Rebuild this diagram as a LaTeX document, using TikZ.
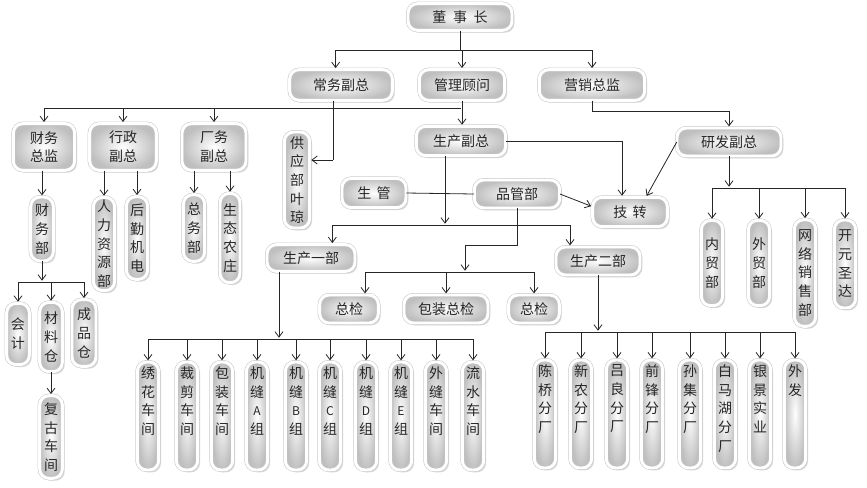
\documentclass[tikz,border=0pt]{standalone}
\usepackage{fontspec}
\newfontfamily\cjk{Noto Sans CJK SC}
\usepackage{tikz}
\usetikzlibrary{arrows.meta, shadows}

\newcommand{\tallcol}[1]{\parbox[c][77pt][t]{12pt}{\centering\vspace*{1.5pt}#1}}
\newcommand{\smallab}[1]{{\fontsize{9}{14}\selectfont #1}}

\begin{document}
\begin{tikzpicture}[x=0.75pt, y=-0.75pt,
    orgbox/.style={draw=gray!45, line width=0.4pt, double=white, double distance=2.2pt,
        rounded corners=7pt, inner color=white, outer color=gray!50,
        drop shadow={opacity=0.3, shadow xshift=1.8pt, shadow yshift=-1.8pt},
        font=\cjk\fontsize{10.5}{14}\selectfont, text=black!85, inner sep=2pt, align=center},
    conn/.style={draw=black!85, line width=0.6pt},
    arr/.style={conn, -{Straight Barb[length=4pt,width=6pt]}, shorten >=1pt}]

    \useasboundingbox (0,0) rectangle (867,487);

    % Top level
    \node[orgbox, minimum width=78pt, minimum height=20pt] (chairman) at (460,17) {董\hspace{5pt}事\hspace{5pt}长};
    \node[orgbox, minimum width=77pt, minimum height=23pt] (execvp) at (341,85) {常务副总};
    \node[orgbox, minimum width=64pt, minimum height=23pt] (advisor) at (462,85) {管理顾问};
    \node[orgbox, minimum width=79pt, minimum height=23pt] (salesdir) at (592,85) {营销总监};

    % Second level
    \node[orgbox, minimum width=46pt, minimum height=35pt] (findir) at (44,147) {财务\\总监};
    \node[orgbox, minimum width=50pt, minimum height=35pt] (adminvp) at (123,147) {行政\\副总};
    \node[orgbox, minimum width=48pt, minimum height=35pt] (plantvp) at (214,147) {厂务\\副总};
    \node[orgbox, minimum width=19pt, minimum height=72pt] (supply) at (297,180) {供\\应\\部\\叶\\琼};
    \node[orgbox, minimum width=67pt, minimum height=22pt] (prodvp) at (461,141) {生产副总};
    \node[orgbox, minimum width=78pt, minimum height=21pt] (rdvp) at (729,142) {研发副总};

    % Production
    \node[orgbox, minimum width=48pt, minimum height=22pt] (prodctl) at (374,193) {生\hspace{4pt}管};
    \node[orgbox, minimum width=64pt, minimum height=21pt] (qc) at (517,194) {品管部};
    \node[orgbox, minimum width=56pt, minimum height=22pt] (tech) at (630,212) {技\hspace{4pt}转};
    \node[orgbox, minimum width=66pt, minimum height=20pt] (prodA) at (311,258) {生产一部};
    \node[orgbox, minimum width=63pt, minimum height=21pt] (prodB) at (598,261) {生产二部};
    \node[orgbox, minimum width=44pt, minimum height=21pt] (chkA) at (349,309) {总检};
    \node[orgbox, minimum width=63pt, minimum height=21pt] (pack) at (446,309) {包装总检};
    \node[orgbox, minimum width=38pt, minimum height=21pt] (chkB) at (534,309) {总检};

    % Departments left
    \node[orgbox, minimum width=17pt, minimum height=48pt] (finance) at (42,229) {财\\务\\部};
    \node[orgbox, minimum width=16pt, minimum height=70pt] (hr) at (104,244) {人\\力\\资\\源\\部};
    \node[orgbox, minimum width=16pt, minimum height=62pt] (logis) at (137,238) {后\\勤\\机\\电};
    \node[orgbox, minimum width=16pt, minimum height=50pt] (general) at (194,228) {总\\务\\部};
    \node[orgbox, minimum width=15pt, minimum height=67pt] (farm) at (230,238) {生\\态\\农\\庄};
    \node[orgbox, minimum width=17pt, minimum height=46pt] (acct) at (18,334) {会\\计};
    \node[orgbox, minimum width=17pt, minimum height=52pt] (matl) at (51,337) {材\\料\\仓};
    \node[orgbox, minimum width=18pt, minimum height=50pt] (goods) at (84,333) {成\\品\\仓};
    \node[orgbox, minimum width=17pt, minimum height=62pt] (retro) at (51,437) {复\\古\\车\\间};

    % Departments right
    \node[orgbox, minimum width=16pt, minimum height=64pt] (domestic) at (712,263) {内\\贸\\部};
    \node[orgbox, minimum width=16pt, minimum height=64pt] (foreign) at (759,263) {外\\贸\\部};
    \node[orgbox, minimum width=16pt, minimum height=80pt] (online) at (805,273) {网\\络\\销\\售\\部};
    \node[orgbox, minimum width=16pt, minimum height=66pt] (kaiyuan) at (845,264) {开\\元\\圣\\达};

    % Workshops
    \node[orgbox] (w1) at (148,416) {\tallcol{绣\\花\\车\\间}};
    \node[orgbox] (w2) at (187,416) {\tallcol{裁\\剪\\车\\间}};
    \node[orgbox] (w3) at (222,416) {\tallcol{包\\装\\车\\间}};
    \node[orgbox] (w4) at (257,416) {\tallcol{机\\缝\\\smallab{A}\\组}};
    \node[orgbox] (w5) at (296,416) {\tallcol{机\\缝\\\smallab{B}\\组}};
    \node[orgbox] (w6) at (330,416) {\tallcol{机\\缝\\\smallab{C}\\组}};
    \node[orgbox] (w7) at (366,416) {\tallcol{机\\缝\\\smallab{D}\\组}};
    \node[orgbox] (w8) at (401,416) {\tallcol{机\\缝\\\smallab{E}\\组}};
    \node[orgbox] (w9) at (436,416) {\tallcol{外\\缝\\车\\间}};
    \node[orgbox] (w10) at (473,416) {\tallcol{流\\水\\车\\间}};

    % Branch plants
    \node[orgbox] (b1) at (545,414) {\tallcol{陈\\桥\\分\\厂}};
    \node[orgbox] (b2) at (581,414) {\tallcol{新\\农\\分\\厂}};
    \node[orgbox] (b3) at (617,414) {\tallcol{吕\\良\\分\\厂}};
    \node[orgbox] (b4) at (652,414) {\tallcol{前\\锋\\分\\厂}};
    \node[orgbox] (b5) at (690,414) {\tallcol{孙\\集\\分\\厂}};
    \node[orgbox] (b6) at (725,414) {\tallcol{白\\马\\湖\\分\\厂}};
    \node[orgbox] (b7) at (760,414) {\tallcol{银\\景\\实\\业}};
    \node[orgbox] (b8) at (795,414) {\tallcol{外\\发}};

    % Bus levels
    \coordinate (topbus) at (0,50);
    \coordinate (midbus) at (0,108);
    \coordinate (salesbus) at (0,111);
    \coordinate (supbus) at (0,160);
    \coordinate (rdbus) at (0,188);
    \coordinate (prodbus) at (0,225);
    \coordinate (qcturn) at (465,245);
    \coordinate (qcbus) at (0,272);
    \coordinate (findbus) at (0,282);
    \coordinate (bbus) at (0,332);
    \coordinate (wbus) at (0,339);

    % Chairman
    \draw[conn] (chairman.south) -- (chairman.south |- topbus);
    \draw[conn] ([xshift=-4pt]execvp.north |- topbus) -- (salesdir.north |- topbus);
    \draw[arr] ([xshift=-4pt]execvp.north |- topbus) -- ([xshift=-4pt]execvp.north);
    \draw[arr] (advisor.north |- topbus) -- (advisor.north);
    \draw[arr] (salesdir.north |- topbus) -- (salesdir.north);

    % Executive VP
    \draw[conn] ([xshift=-6pt]execvp.south) -- ([xshift=-6pt]execvp.south |- supbus);
    \draw[arr] ([xshift=-6pt]execvp.south |- supbus) -- (supply.east |- supbus);
    \draw[conn] (findir.north |- midbus) -- (prodvp.north |- midbus);
    \draw[arr] (findir.north |- midbus) -- (findir.north);
    \draw[arr] (adminvp.north |- midbus) -- (adminvp.north);
    \draw[arr] (plantvp.north |- midbus) -- (plantvp.north);
    \draw[arr] (advisor.south) -- (advisor.south |- prodvp.north);

    % Sales
    \draw[arr] (salesdir.south) -- (salesdir.south |- salesbus) -| (rdvp.north);

    % Finance and admin
    \draw[arr] (findir.south -| finance.north) -- (finance.north);
    \draw[arr] (adminvp.south -| hr.north) -- (hr.north);
    \draw[arr] (adminvp.south -| logis.north) -- (logis.north);
    \draw[arr] (plantvp.south -| general.north) -- (general.north);
    \draw[arr] (plantvp.south -| farm.north) -- (farm.north);
    \draw[arr] (finance.south) -- (finance.south |- findbus);
    \draw[conn] (acct.north |- findbus) -- (goods.north |- findbus);
    \draw[arr] (acct.north |- findbus) -- (acct.north);
    \draw[arr] (matl.north |- findbus) -- (matl.north);
    \draw[arr] (goods.north |- findbus) -- (goods.north);
    \draw[arr] (matl.south) -- (retro.north);

    % Production VP
    \draw[arr] (prodvp.east) -| ([xshift=-6pt]tech.north);
    \draw[arr] (rdvp.west) -- ([xshift=12pt]tech.north);
    \draw[conn] (prodctl.east) -- (qc.west);
    \draw[arr] (qc.east) -- ([yshift=4pt]tech.west);
    \draw[arr] ([xshift=-12pt]prodvp.south) -- ([xshift=-12pt]prodvp.south |- prodbus);
    \draw[conn] ([xshift=16pt]prodA.north |- prodbus) -- ([xshift=-21pt]prodB.north |- prodbus);
    \draw[arr] ([xshift=16pt]prodA.north |- prodbus) -- ([xshift=16pt]prodA.north);
    \draw[arr] ([xshift=-21pt]prodB.north |- prodbus) -- ([xshift=-21pt]prodB.north);

    % Quality
    \draw[arr] (qc.south) |- (qcturn) -- (qcturn |- qcbus);
    \draw[conn] ([xshift=12pt]chkA.north |- qcbus) -- (chkB.north |- qcbus);
    \draw[arr] ([xshift=12pt]chkA.north |- qcbus) -- ([xshift=12pt]chkA.north);
    \draw[arr] (pack.north |- qcbus) -- (pack.north);
    \draw[arr] (chkB.north |- qcbus) -- (chkB.north);

    % Plant one
    \draw[arr] ([xshift=-24pt]prodA.south) -- ([xshift=-24pt]prodA.south |- wbus);
    \draw[conn] (w1.north |- wbus) -- (w10.north |- wbus);
    \draw[arr] (w1.north |- wbus) -- (w1.north);
    \draw[arr] (w2.north |- wbus) -- (w2.north);
    \draw[arr] (w3.north |- wbus) -- (w3.north);
    \draw[arr] (w4.north |- wbus) -- (w4.north);
    \draw[arr] (w5.north |- wbus) -- (w5.north);
    \draw[arr] (w6.north |- wbus) -- (w6.north);
    \draw[arr] (w7.north |- wbus) -- (w7.north);
    \draw[arr] (w8.north |- wbus) -- (w8.north);
    \draw[arr] (w9.north |- wbus) -- (w9.north);
    \draw[arr] (w10.north |- wbus) -- (w10.north);

    % Plant two
    \draw[arr] (prodB.south) -- (prodB.south |- bbus);
    \draw[conn] (b1.north |- bbus) -- (b8.north |- bbus);
    \draw[arr] (b1.north |- bbus) -- (b1.north);
    \draw[arr] (b2.north |- bbus) -- (b2.north);
    \draw[arr] (b3.north |- bbus) -- (b3.north);
    \draw[arr] (b4.north |- bbus) -- (b4.north);
    \draw[arr] (b5.north |- bbus) -- (b5.north);
    \draw[arr] (b6.north |- bbus) -- (b6.north);
    \draw[arr] (b7.north |- bbus) -- (b7.north);
    \draw[arr] (b8.north |- bbus) -- (b8.north);

    % R&D
    \draw[arr] (rdvp.south) -- (rdvp.south |- rdbus);
    \draw[conn] (domestic.north |- rdbus) -- (kaiyuan.north |- rdbus);
    \draw[arr] (domestic.north |- rdbus) -- (domestic.north);
    \draw[arr] (foreign.north |- rdbus) -- (foreign.north);
    \draw[arr] (online.north |- rdbus) -- (online.north);
    \draw[arr] (kaiyuan.north |- rdbus) -- (kaiyuan.north);
\end{tikzpicture}
\end{document}
